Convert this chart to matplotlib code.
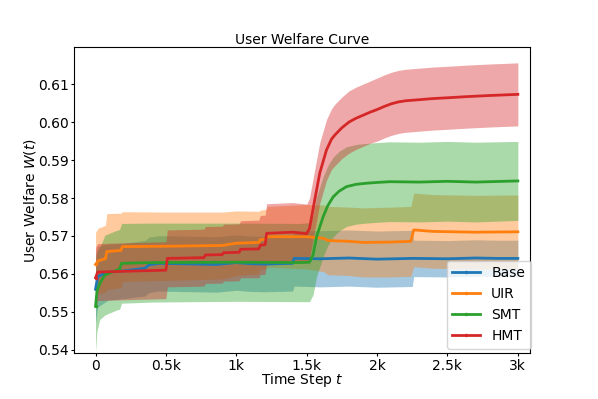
import matplotlib
matplotlib.use('Agg')
import matplotlib.pyplot as plt
from matplotlib.ticker import FuncFormatter

labels = ['Base', 'UIR', 'SMT', 'HMT']
colors = ['tab:blue', 'tab:orange', 'tab:green', 'tab:red']

# Base
t_base = [0, 15, 90, 200, 350, 380, 450, 860, 1000, 1100, 1200, 1400, 1410, 1600, 1800,
          2000, 2250, 2260, 2500, 2700, 2850, 3000]
m_base = [0.5560, 0.5593, 0.5605, 0.5608, 0.5615, 0.5624, 0.5628, 0.5625, 0.5630, 0.5627,
          0.5626, 0.5628, 0.5641, 0.5640, 0.5642, 0.5639, 0.5641, 0.5641, 0.5640, 0.5642,
          0.5641, 0.5641]
h_base = [0.0090, 0.0080, 0.0074, 0.0073, 0.0073, 0.0073, 0.0073, 0.0073, 0.0073, 0.0073,
          0.0073, 0.0073, 0.0073, 0.0074, 0.0074, 0.0074, 0.0074, 0.0048, 0.0048, 0.0048,
          0.0048, 0.0048]

# UIR
t_uir = [0, 20, 70, 80, 180, 190, 500, 900, 1000, 1160, 1170, 1210, 1220, 1500, 1560,
         1620, 1650, 1800, 1900, 2100, 2240, 2260, 2400, 2700, 3000]
m_uir = [0.5625, 0.5635, 0.5640, 0.5659, 0.5662, 0.5672, 0.5673, 0.5675, 0.5681, 0.5683,
         0.5690, 0.5692, 0.5698, 0.5698, 0.5696, 0.5694, 0.5688, 0.5686, 0.5683, 0.5684,
         0.5686, 0.5716, 0.5712, 0.5710, 0.5711]
h_uir = [0.0085, 0.0086, 0.0088, 0.0100, 0.0098, 0.0092, 0.0090, 0.0088, 0.0085, 0.0082,
         0.0078, 0.0078, 0.0080, 0.0085, 0.0086, 0.0088, 0.0090, 0.0090, 0.0091, 0.0092,
         0.0092, 0.0097, 0.0097, 0.0097, 0.0097]

# SMT
t_smt = [0, 10, 30, 66, 150, 170, 185, 400, 1000, 1450, 1520, 1545, 1570, 1617, 1650,
         1688, 1730, 1783, 1850, 1925, 2000, 2090, 2300, 2500, 2700, 3000]
m_smt = [0.5515, 0.5555, 0.5575, 0.5597, 0.5610, 0.5612, 0.5628, 0.5630, 0.5631, 0.5630,
         0.5631, 0.5650, 0.5698, 0.5751, 0.5780, 0.5803, 0.5818, 0.5830, 0.5836, 0.5839,
         0.5841, 0.5843, 0.5842, 0.5844, 0.5842, 0.5845]
h_smt = [0.0120, 0.0105, 0.0095, 0.0105, 0.0105, 0.0105, 0.0105, 0.0104, 0.0103, 0.0103,
         0.0104, 0.0105, 0.0105, 0.0105, 0.0105, 0.0105, 0.0105, 0.0105, 0.0105, 0.0105,
         0.0105, 0.0105, 0.0105, 0.0105, 0.0105, 0.0104]

# HMT
t_hmt = [0, 15, 300, 500, 510, 770, 780, 900, 910, 1020, 1030, 1160, 1170, 1205, 1215,
         1400, 1500, 1520, 1557, 1593, 1640, 1676, 1700, 1750, 1800, 1850, 1900, 1950,
         2000, 2050, 2100, 2150, 2200, 2300, 2400, 2500, 2635, 2800, 3000]
m_hmt = [0.5590, 0.5605, 0.5608, 0.5610, 0.5641, 0.5643, 0.5650, 0.5651, 0.5656, 0.5657,
         0.5665, 0.5666, 0.5676, 0.5677, 0.5707, 0.5710, 0.5706, 0.5720, 0.5795, 0.5866,
         0.5926, 0.5955, 0.5966, 0.5985, 0.6000, 0.6010, 0.6018, 0.6026, 0.6033, 0.6041,
         0.6048, 0.6053, 0.6056, 0.6059, 0.6062, 0.6064, 0.6067, 0.6070, 0.6073]
h_hmt = [0.0080, 0.0075, 0.0075, 0.0075, 0.0075, 0.0075, 0.0075, 0.0075, 0.0075, 0.0075,
         0.0075, 0.0076, 0.0078, 0.0078, 0.0078, 0.0078, 0.0078, 0.0080, 0.0080, 0.0080,
         0.0080, 0.0080, 0.0081, 0.0081, 0.0082, 0.0082, 0.0082, 0.0082, 0.0083, 0.0083,
         0.0083, 0.0083, 0.0083, 0.0083, 0.0083, 0.0083, 0.0083, 0.0083, 0.0083]

series = [(t_base, m_base, h_base), (t_uir, m_uir, h_uir),
          (t_smt, m_smt, h_smt), (t_hmt, m_hmt, h_hmt)]

fig = plt.figure(figsize=(5.98, 3.99), dpi=100)
ax = fig.add_axes([0.124, 0.1145, 0.762, 0.767])

# bands first, lines on top
for (t, m, h), c in zip(series, colors):
    lo = [a - b for a, b in zip(m, h)]
    hi = [a + b for a, b in zip(m, h)]
    ax.fill_between(t, lo, hi, color=c, alpha=0.4, linewidth=0)

for (t, m, h), c, lab in zip(series, colors, labels):
    ax.plot(t, m, color=c, linewidth=2, marker='.', markersize=3,
            markevery=[0], label=lab)

ax.set_xlim(-152, 3085)
ax.set_ylim(0.5391, 0.6197)
ax.set_xticks([0, 500, 1000, 1500, 2000, 2500, 3000])
ax.xaxis.set_major_formatter(FuncFormatter(
    lambda v, p: '0' if v == 0 else ('%gk' % (v / 1000))))
ax.set_yticks([0.54, 0.55, 0.56, 0.57, 0.58, 0.59, 0.60, 0.61])
ax.set_yticklabels(['0.54', '0.55', '0.56', '0.57', '0.58', '0.59', '0.60', '0.61'])
ax.tick_params(length=2.5, pad=1.5)

ax.set_title('User Welfare Curve', fontsize=10, pad=2)
ax.set_xlabel('Time Step $t$', labelpad=-1)
ax.set_ylabel('User Welfare $W(t)$', labelpad=0)
ax.legend(loc='lower right', bbox_to_anchor=(1.017, -0.007))

fig.savefig('out.png', dpi=100)
